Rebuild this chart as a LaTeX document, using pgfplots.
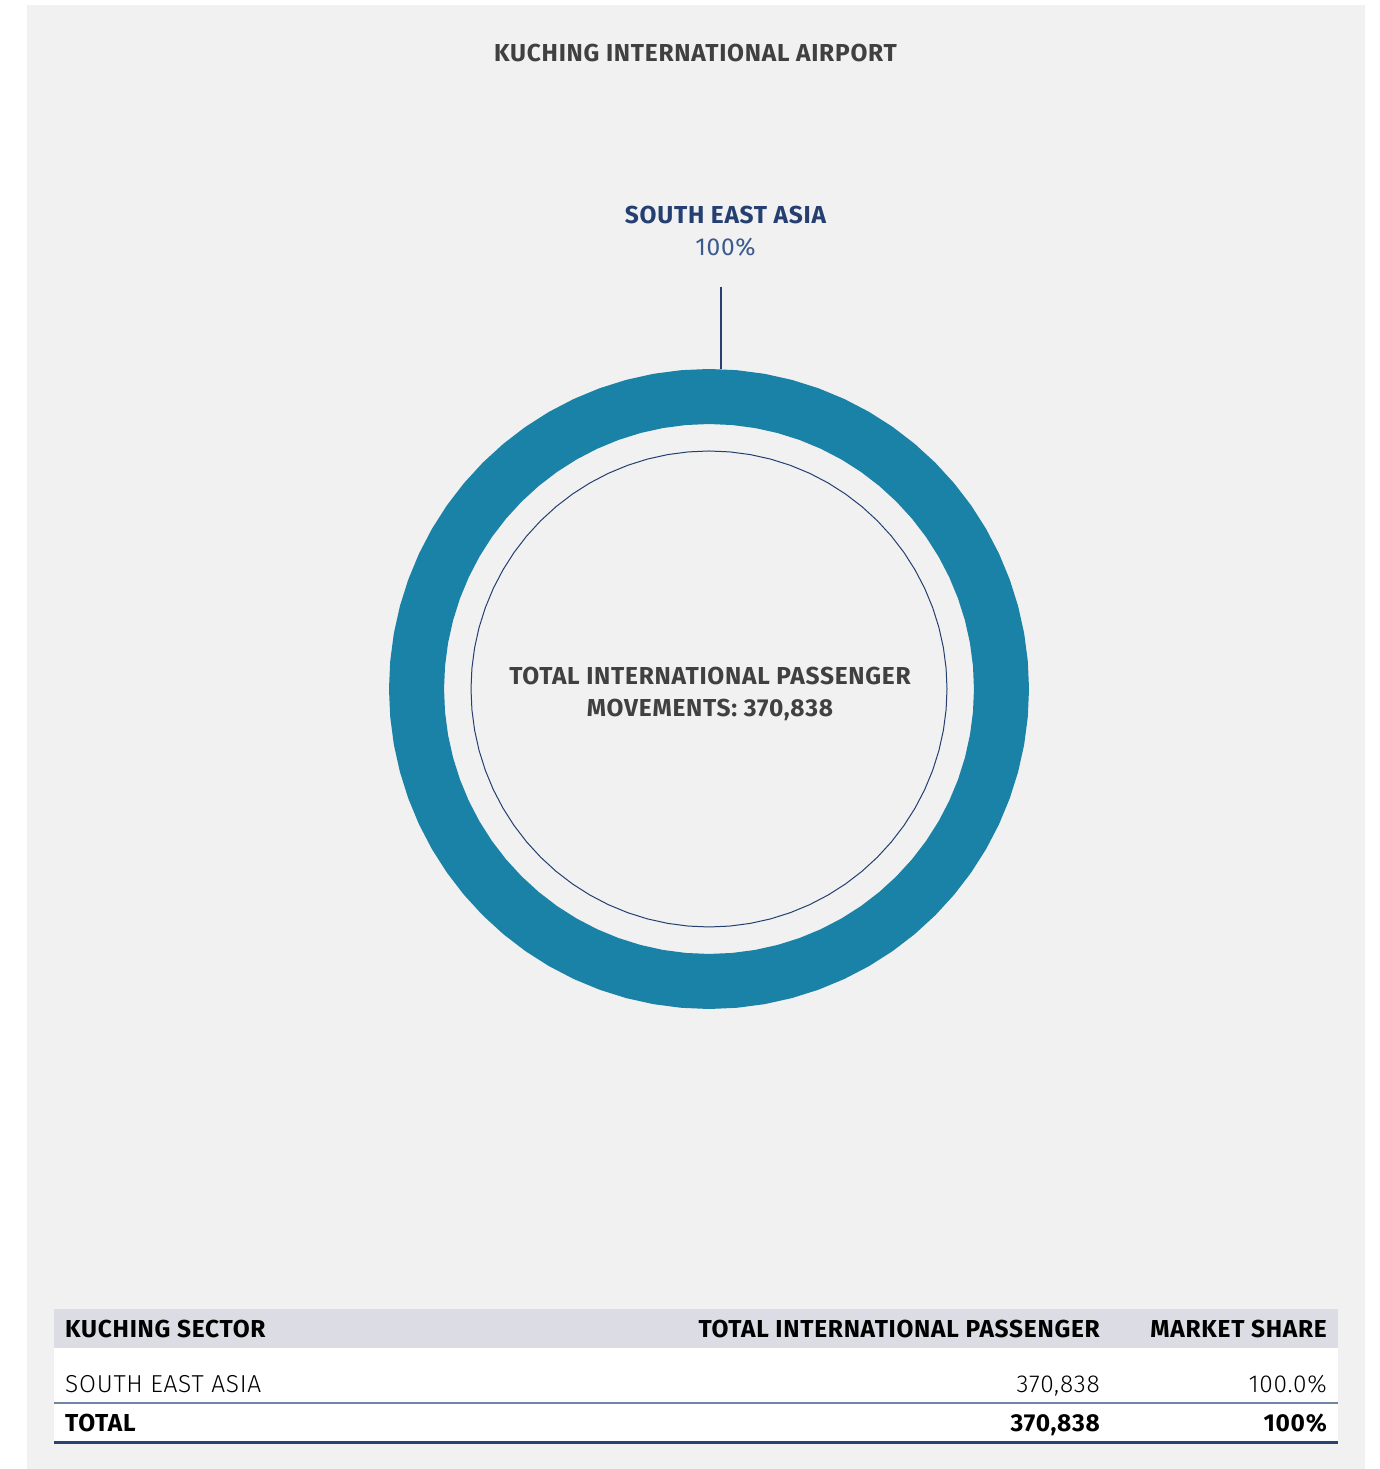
\documentclass[border=0pt]{standalone}
\usepackage{pgfplots}
\pgfplotsset{compat=1.18}
\usepackage{pgfplotstable}
\usepackage{fontspec}
\setmainfont{Fira Sans}[LetterSpace=3]
\newfontfamily\lightfont{Fira Sans Light}[LetterSpace=3]

\definecolor{panel}{HTML}{F1F1F1}
\definecolor{ring}{HTML}{1A82A6}
\definecolor{navy}{HTML}{243F70}
\definecolor{navylight}{HTML}{3D5A8C}
\definecolor{txt}{HTML}{404040}
\definecolor{band}{HTML}{DCDCE4}
\definecolor{rule}{HTML}{6F84A6}
\definecolor{rulebold}{HTML}{2B4170}

% South East Asia = 100% share: one slice, the whole ring (angle, radius in px)
\pgfplotstableread{
angle ring inner
0 292.5 238
5 292.5 238
10 292.5 238
15 292.5 238
20 292.5 238
25 292.5 238
30 292.5 238
35 292.5 238
40 292.5 238
45 292.5 238
50 292.5 238
55 292.5 238
60 292.5 238
65 292.5 238
70 292.5 238
75 292.5 238
80 292.5 238
85 292.5 238
90 292.5 238
95 292.5 238
100 292.5 238
105 292.5 238
110 292.5 238
115 292.5 238
120 292.5 238
125 292.5 238
130 292.5 238
135 292.5 238
140 292.5 238
145 292.5 238
150 292.5 238
155 292.5 238
160 292.5 238
165 292.5 238
170 292.5 238
175 292.5 238
180 292.5 238
185 292.5 238
190 292.5 238
195 292.5 238
200 292.5 238
205 292.5 238
210 292.5 238
215 292.5 238
220 292.5 238
225 292.5 238
230 292.5 238
235 292.5 238
240 292.5 238
245 292.5 238
250 292.5 238
255 292.5 238
260 292.5 238
265 292.5 238
270 292.5 238
275 292.5 238
280 292.5 238
285 292.5 238
290 292.5 238
295 292.5 238
300 292.5 238
305 292.5 238
310 292.5 238
315 292.5 238
320 292.5 238
325 292.5 238
330 292.5 238
335 292.5 238
340 292.5 238
345 292.5 238
350 292.5 238
355 292.5 238
360 292.5 238
}\donut

\newcommand\bfs{\fontsize{24.5}{29}\selectfont\bfseries}
\newcommand\rgs{\fontsize{24.5}{29}\selectfont}

\begin{document}
\begin{tikzpicture}[x=1pt,y=1pt]
  \fill[white] (0,0) rectangle (1379,1469);
  \fill[panel] (27,0) rectangle (1365,1464);

  \begin{axis}[
      at={(709pt,780pt)}, anchor=center,
      scale only axis, width=640pt, height=640pt,
      xmin=-320, xmax=320, ymin=-320, ymax=320,
      hide axis, clip=false]
    \addplot[ring, line width=55pt, line cap=round, line join=round, mark=none, data cs=polar]
      table[x=angle, y=ring] {\donut};
    \addplot[navy, line width=1pt, mark=none, data cs=polar]
      table[x=angle, y=inner] {\donut};
    % leader line to the label
    \addplot[navy, line width=1.3pt, mark=none] coordinates {(12,402) (12,320)};
  \end{axis}

  \node[anchor=base, txt, font=\bfs] at (695.5,1407) {KUCHING INTERNATIONAL AIRPORT};
  \node[anchor=base, navy, font=\bfs] at (725.5,1245) {SOUTH EAST ASIA};
  \node[anchor=base, navylight, font=\rgs] at (725.5,1213) {100\%};
  \node[anchor=base, txt, font=\bfs] at (710,784) {TOTAL INTERNATIONAL PASSENGER};
  \node[anchor=base, txt, font=\bfs] at (710,752) {MOVEMENTS: 370,838};

  % table
  \fill[band] (54,121) rectangle (1338,160);
  \fill[white] (54,26) rectangle (1338,121);
  \draw[rule, line width=2pt] (54,66) -- (1338,66);
  \draw[rulebold, line width=3pt] (54,26) -- (1338,26);

  \node[anchor=base west, inner sep=0, black, font=\bfs] at (65,131) {KUCHING SECTOR};
  \node[anchor=base east, inner sep=0, black, font=\bfs] at (1100,131) {TOTAL INTERNATIONAL PASSENGER};
  \node[anchor=base east, inner sep=0, black, font=\bfs] at (1327,131) {MARKET SHARE};

  \node[anchor=base west, inner sep=0, black, font=\rgs\lightfont] at (65,76) {SOUTH EAST ASIA};
  \node[anchor=base east, inner sep=0, black, font=\rgs\lightfont] at (1100,76) {370,838};
  \node[anchor=base east, inner sep=0, black, font=\rgs\lightfont] at (1327,76) {100.0\%};

  \node[anchor=base west, inner sep=0, black, font=\bfs] at (65,37) {TOTAL};
  \node[anchor=base east, inner sep=0, black, font=\bfs] at (1100,37) {370,838};
  \node[anchor=base east, inner sep=0, black, font=\bfs] at (1327,37) {100\%};
\end{tikzpicture}
\end{document}
